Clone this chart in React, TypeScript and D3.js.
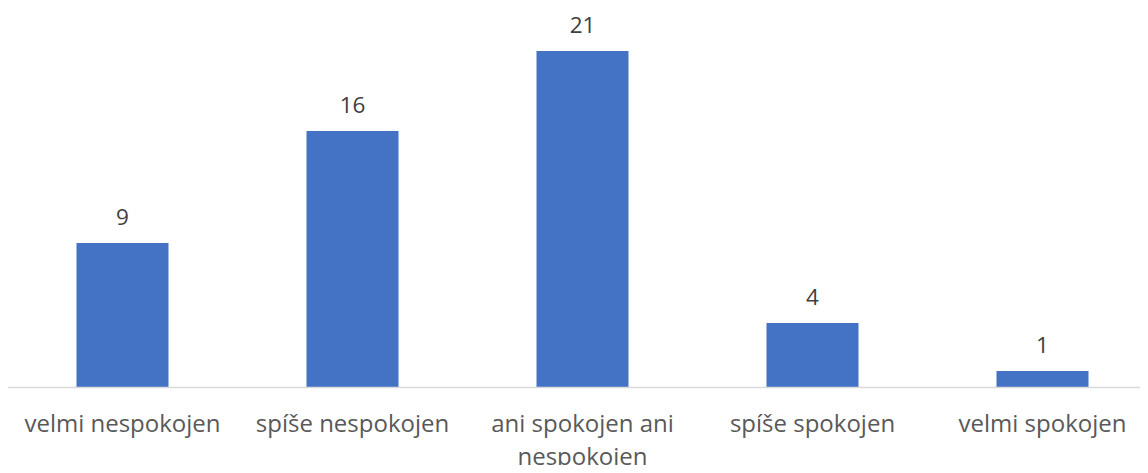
import { useEffect, useRef } from "react";
import * as d3 from "d3";

const categories = [
  "velmi nespokojen",
  "spíše nespokojen",
  "ani spokojen ani nespokojen",
  "spíše spokojen",
  "velmi spokojen",
];
const counts = [9, 16, 21, 4, 1];

export default function App() {
  const chartRef = useRef<SVGSVGElement>(null);

  useEffect(() => {
    if (!chartRef.current) return;
    d3.select(chartRef.current).selectAll("*").remove();

    const width = 1148;
    const height = 473;
    const baseline = 387;
    const font = "'Open Sans', sans-serif";

    const data = categories.map((c, i) => ({ cat: c, value: counts[i] }));

    const svg = d3
      .select(chartRef.current)
      .attr("width", width)
      .attr("height", height)
      .style("display", "block");

    const x = d3
      .scaleBand()
      .domain(categories)
      .range([7.5, 1157.5])
      .paddingInner(0.6)
      .paddingOuter(0.3);

    const y = d3.scaleLinear().domain([0, 21]).range([baseline, 51]);

    // bars
    svg
      .selectAll("rect.bar")
      .data(data)
      .join("rect")
      .attr("class", "bar")
      .attr("x", (d) => x(d.cat) || 0)
      .attr("y", (d) => y(d.value))
      .attr("width", x.bandwidth())
      .attr("height", (d) => y(0) - y(d.value))
      .attr("fill", "#4472C4");

    // axis line
    svg
      .append("line")
      .attr("x1", 7)
      .attr("x2", width)
      .attr("y1", baseline + 0.5)
      .attr("y2", baseline + 0.5)
      .attr("stroke", "#d9d9d9")
      .attr("stroke-width", 1.5);

    // value labels
    svg
      .selectAll("text.val")
      .data(data)
      .join("text")
      .attr("class", "val")
      .attr("x", (d) => (x(d.cat) || 0) + x.bandwidth() / 2)
      .attr("y", (d) => y(d.value) - 18)
      .attr("text-anchor", "middle")
      .style("font-family", font)
      .style("font-size", "22.5px")
      .attr("fill", "#404040")
      .text((d) => d.value);

    // category labels, wrapped to the band step
    const labels = svg
      .selectAll("text.cat")
      .data(data)
      .join("text")
      .attr("class", "cat")
      .attr("text-anchor", "middle")
      .style("font-family", font)
      .style("font-size", "24px")
      .attr("fill", "#595959");

    labels.each(function (d) {
      const el = d3.select(this);
      const cx = (x(d.cat) || 0) + x.bandwidth() / 2;
      const words = d.cat.split(" ");
      let line: string[] = [];
      let lineNo = 0;
      let tspan = el.append("tspan").attr("x", cx).attr("y", 432);
      for (const w of words) {
        line.push(w);
        tspan.text(line.join(" "));
        if ((tspan.node() as SVGTSpanElement).getComputedTextLength() > x.step() - 4 && line.length > 1) {
          line.pop();
          tspan.text(line.join(" "));
          line = [w];
          lineNo++;
          tspan = el
            .append("tspan")
            .attr("x", cx)
            .attr("y", 432 + lineNo * 33)
            .text(w);
        }
      }
    });
  }, []);

  return (
    <div style={{ margin: -8 }}>
      <svg ref={chartRef}></svg>
    </div>
  );
}
